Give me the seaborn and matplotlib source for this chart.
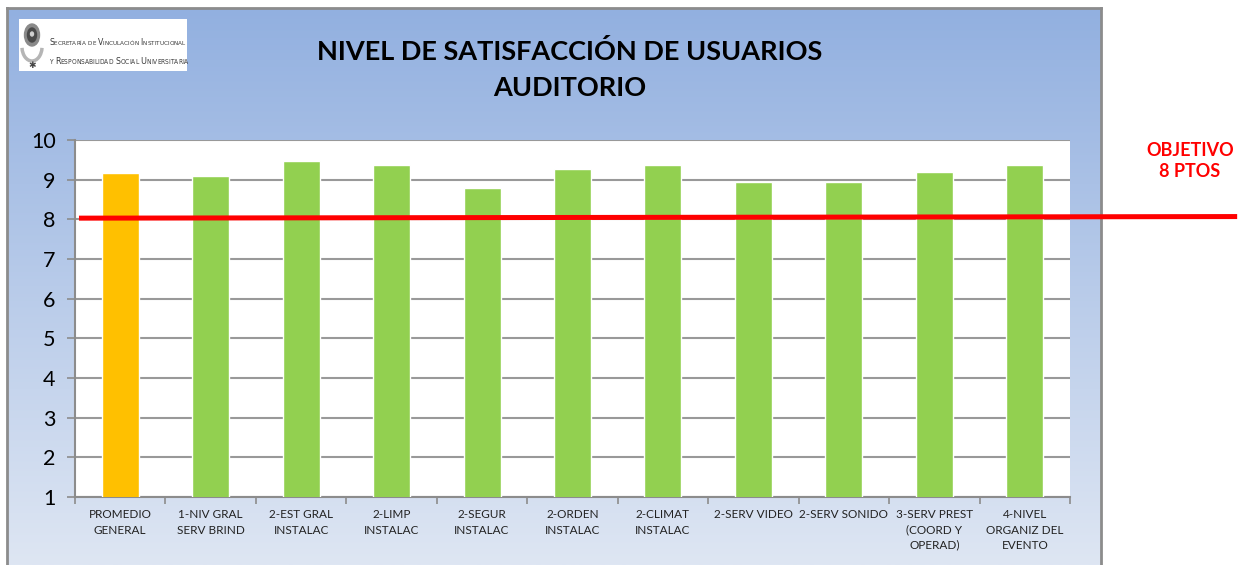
import numpy as np
import pandas as pd
import matplotlib
matplotlib.use("Agg")
import matplotlib.pyplot as plt
import matplotlib.patches as mpatches
import matplotlib.transforms as mtransforms
from matplotlib import font_manager as fm
import seaborn as sns

categories = ["PROMEDIO\nGENERAL", "1-NIV GRAL\nSERV BRIND", "2-EST GRAL\nINSTALAC",
              "2-LIMP\nINSTALAC", "2-SEGUR\nINSTALAC", "2-ORDEN\nINSTALAC",
              "2-CLIMAT\nINSTALAC", "2-SERV VIDEO", "2-SERV SONIDO",
              "3-SERV PREST\n(COORD Y\nOPERAD)", "4-NIVEL\nORGANIZ DEL\nEVENTO"]
values = [9.18, 9.08, 9.48, 9.36, 8.80, 9.28, 9.36, 8.95, 8.95, 9.20, 9.36]
objective = 8
y_ticks = [1, 2, 3, 4, 5, 6, 7, 8, 9, 10]
bar_colors = ["#FFC000"] + ["#92D050"] * 10
logo_lines = ["Secretaría de Vinculación Institucional",
              "y Responsabilidad Social Universitaria"]

sns.set_theme(style="white")
plt.rcParams['font.family'] = ['Lato', 'DejaVu Sans']

W, H = 1256, 565
fig = plt.figure(figsize=(W / 100, H / 100), dpi=100)
fig.patch.set_facecolor("white")

# gradient background frame
bg = fig.add_axes([7 / W, 0, (1101 - 7) / W, (H - 8) / H], zorder=0)
grad = np.linspace(0, 1, 256).reshape(-1, 1)
top = np.array([146, 176, 224]) / 255
bot = np.array([222, 230, 243]) / 255
img = top[None, None, :] * (1 - grad[:, :, None]) + bot[None, None, :] * grad[:, :, None]
bg.imshow(img, aspect="auto", extent=[0, 1, 0, 1], origin="upper")
bg.set_xlim(0, 1); bg.set_ylim(0, 1)
bg.set_xticks([]); bg.set_yticks([])
for s in bg.spines.values():
    s.set_color("#8c8c8c"); s.set_linewidth(2)
bg.spines["bottom"].set_visible(False)

# plot area
ax = fig.add_axes([75 / W, (H - 497) / H, (1070 - 75) / W, (497 - 140) / H], zorder=2)
ax.set_facecolor("white")
df = pd.DataFrame({"cat": categories, "val": values})
sns.barplot(data=df, x="cat", y="val", hue="cat", palette=bar_colors, legend=False,
            width=0.41, ax=ax, saturation=1, zorder=3)
ax.set_ylim(1, 10)
ax.set_xlim(-0.5, len(categories) - 0.5)
ax.set_yticks(y_ticks)
ax.set_yticklabels([str(t) for t in y_ticks], fontsize=15.5, color="#000000")
ax.yaxis.grid(True, color="#999999", linewidth=1.5, zorder=1)
ax.set_axisbelow(True)
ax.set_xlabel(""); ax.set_ylabel("")
ax.tick_params(axis="y", which="major", length=6, width=1.2, color="#8c8c8c", direction="out", pad=8, left=True)
ax.set_xticks(range(len(categories)))
ax.set_xticklabels(categories, fontsize=8.5, color="#222222", linespacing=1.45, va="top")
ax.tick_params(axis="x", which="major", length=0, pad=9)
ax.set_xticks(np.arange(-0.5, len(categories), 1), minor=True)
ax.tick_params(axis="x", which="minor", length=5, width=1.2, color="#8c8c8c", direction="out", bottom=True)
for side in ["top", "right"]:
    ax.spines[side].set_visible(False)
ax.spines["left"].set_color("#8c8c8c"); ax.spines["left"].set_linewidth(1.5)
ax.spines["bottom"].set_color("#8c8c8c"); ax.spines["bottom"].set_linewidth(1.5)

# objective line (extends beyond plot area)
trans = mtransforms.blended_transform_factory(ax.transAxes, ax.transData)
ax.plot([0.004, 1.168], [objective + 0.03, objective + 0.07], transform=trans, color="#FF0000",
        linewidth=3.6, clip_on=False, zorder=6, solid_capstyle="butt")
fig.text(1190 / W, 1 - 161 / H, "OBJETIVO\n8 PTOS", color="#FF0000", fontsize=13,
         fontweight="bold", ha="center", va="center", linespacing=1.3)

# title
fig.text(570 / W, 1 - 69 / H, "NIVEL DE SATISFACCIÓN DE USUARIOS\nAUDITORIO", fontsize=19.5,
         fontweight="bold", ha="center", va="center", color="#000000", linespacing=1.6, zorder=5)

# logo
logo = fig.add_axes([19 / W, 1 - 71 / H, (187 - 19) / W, (71 - 19) / H], zorder=4)
logo.set_xlim(0, 168); logo.set_ylim(0, 52)
logo.set_facecolor("white")
logo.set_xticks([]); logo.set_yticks([])
for s in logo.spines.values():
    s.set_visible(False)
logo.add_patch(mpatches.Arc((13, 24), 20, 28, theta1=185, theta2=355, color="#b5b5b5", lw=2.5))
logo.add_patch(mpatches.Ellipse((13, 36), 15, 22, color="#8a8a8a"))
logo.add_patch(mpatches.Ellipse((13, 36), 9, 14, color="#4a4a4a"))
logo.add_patch(mpatches.Ellipse((13, 37), 3, 4, color="#d0d0d0"))
logo.text(13, 5, "✱", fontsize=6.5, ha="center", va="center", color="#444444", family="DejaVu Sans")


def pick_narrow():
    for fam, stretch in [("Liberation Sans Narrow", "normal"), ("DejaVu Sans", "condensed")]:
        try:
            fp = fm.FontProperties(family=fam, stretch=stretch)
            path = fm.findfont(fp, fallback_to_default=False)
            if "Narrow" in path or "Condensed" in path:
                return fam, stretch
        except Exception:
            pass
    return "Liberation Sans", "normal"


narrow_fam, narrow_stretch = pick_narrow()
renderer = fig.canvas.get_renderer()


def small_caps(line, x0_px, ybase_px, target_w, big):
    def draw(bigsize):
        arts = []
        x = x0_px
        for wi, word in enumerate(line.split(" ")):
            if wi > 0:
                x += bigsize * 0.35
            for ci, ch in enumerate(word):
                if ch.isupper():
                    t, size = ch, bigsize
                else:
                    t, size = ch.upper(), bigsize * 0.74
                a = fig.text(x / W, 1 - ybase_px / H, t, fontsize=size, family=narrow_fam,
                             stretch=narrow_stretch, color="#3a3a3a", ha="left",
                             va="baseline", zorder=10)
                bb = a.get_window_extent(renderer)
                x += bb.width
                arts.append(a)
        return arts, x - x0_px
    arts, w = draw(big)
    for a in arts:
        a.remove()
    arts, w = draw(big * target_w / w)


small_caps(logo_lines[0], 49, 45, 136, 7)
small_caps(logo_lines[1], 49, 64, 136, 7)

fig.savefig("out.png", dpi=100)
